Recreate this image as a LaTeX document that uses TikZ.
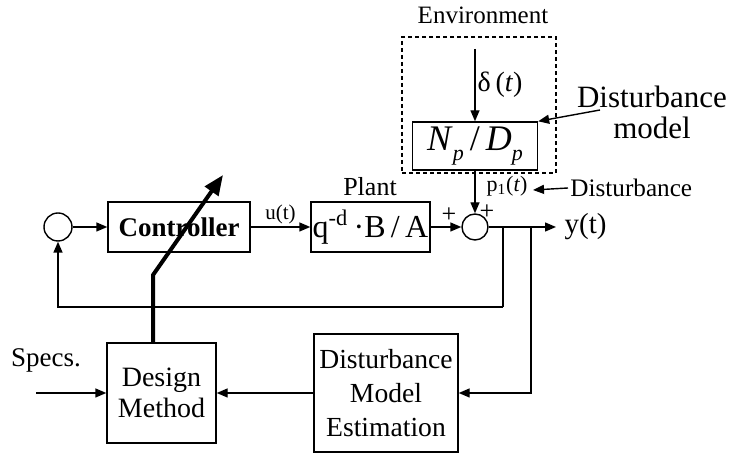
\documentclass[tikz,border=0pt]{standalone}
\usepackage{fontspec}
\setmainfont{Liberation Serif}
\usetikzlibrary{arrows.meta}

\begin{document}
\begin{tikzpicture}[x=0.5pt,y=-0.5pt]
        % adaptive loop: controller, plant, disturbance model and its estimation
        \tikzstyle{block} = [draw,rectangle,line width=0.7pt,inner sep=0pt,align=center];
        \tikzstyle{sum} = [draw,circle,line width=0.7pt,inner sep=0pt];
        \tikzstyle{arr} = [line width=0.7pt,-{Triangle[length=5.5pt,width=4.5pt]}];
        \tikzstyle{txt} = [inner sep=1pt,font=\fontsize{13}{15}\selectfont];

        \useasboundingbox (0,0) rectangle (746,453);

        \node[sum,minimum size=14pt] (sum_ref) at (58,227) {};
        \node[block,minimum width=71pt,minimum height=25pt,font=\fontsize{13.5}{15}\selectfont\bfseries] (controller) at (179,227) {Controller};
        \node[block,minimum width=59.5pt,minimum height=25pt,font=\fontsize{16}{18}\selectfont] (plant) at (370.5,227) {q\textsuperscript{-d}\,·B\,/\,A};
        \node[txt] (plant_label) at (370,187) {Plant};
        \node[sum,minimum size=13pt] (sum_out) at (475,227) {};

        \node[draw,dashed,dash pattern=on 2pt off 1.5pt,line width=0.7pt,minimum width=77pt,minimum height=68pt] (environment) at (479,105) {};
        \node[txt,font=\fontsize{12.5}{14}\selectfont] (env_label) at (483,15) {Environment};
        \node[block,minimum width=62.5pt,minimum height=24pt,font=\fontsize{18}{20}\selectfont] (np) at (475,146) {\textit{N}\raisebox{-0.3em}{\fontsize{11}{12}\selectfont\textit{p}}\,/\,\textit{D}\raisebox{-0.3em}{\fontsize{11}{12}\selectfont\textit{p}}};

        \node[block,minimum width=54.5pt,minimum height=50pt,font=\fontsize{14}{15.5}\selectfont] (design) at (161.5,393) {Design\\Method};
        \node[block,minimum width=72pt,minimum height=59pt,font=\fontsize{13.8}{17}\selectfont] (estimation) at (386,393) {Disturbance\\Model\\Estimation};

        \coordinate (delta_in) at (475,49);
        \coordinate (y_fb) at (503,227);
        \coordinate (y_est) at (531,227);
        \coordinate (y_out) at (556,227);
        \coordinate (fb_corner) at (503,307);
        \coordinate (specs_in) at (36,393);
        \coordinate (tune_bend) at (153,275);
        \coordinate (tune_tip) at (223,175);
        \coordinate (dm_from) at (600,110);
        \coordinate (dist_tip) at (533,190);

        \draw[arr] (sum_ref) -- (controller);
        \draw[arr] (controller) -- node[above,txt,font=\fontsize{10.5}{12}\selectfont] {u(t)} (plant);
        \draw[arr] (plant) -- node[pos=0.6,above,txt,yshift=1pt] {+} (sum_out);
        \draw[arr] (sum_out) -- (y_out) node[right,txt,xshift=3pt,font=\fontsize{14.5}{16}\selectfont] {y(t)};
        \draw[arr] (delta_in) -- node[right,txt,font=\fontsize{14}{16}\selectfont] {δ\,(\textit{t})} (delta_in |- np.north);
        \draw[arr] (np) -- (sum_out);
        \node[txt,font=\fontsize{11}{13}\selectfont] (p1_label) at (507,186) {p\textsubscript{1}(\textit{t})};
        \node[txt] (plus_top) at (487,212) {+};

        \draw[line width=0.7pt] (y_fb) -- (fb_corner);
        \draw[arr] (fb_corner) -| (sum_ref);
        \draw[arr] (y_est) |- (estimation);
        \draw[arr] (estimation) -- (design);
        \draw[arr] (specs_in) -- (design);
        \node[txt,font=\fontsize{13.5}{15}\selectfont] (specs_label) at (46,360) {Specs.};

        \draw[line width=2pt,-{Triangle[length=10pt,width=8pt]}] (design.north -| tune_bend) -- (tune_bend) -- (tune_tip);

        \node[txt,align=center,font=\fontsize{15.5}{15.5}\selectfont] (dm_label) at (652,112) {Disturbance\\model};
        \draw[arr] (dm_from) -- (np.north east);
        \node[txt,right,font=\fontsize{12.6}{14}\selectfont] (dist_label) at (568,188) {Disturbance};
        \draw[arr] (dist_label.west) -- (dist_tip);

    \end{tikzpicture}
\end{document}
